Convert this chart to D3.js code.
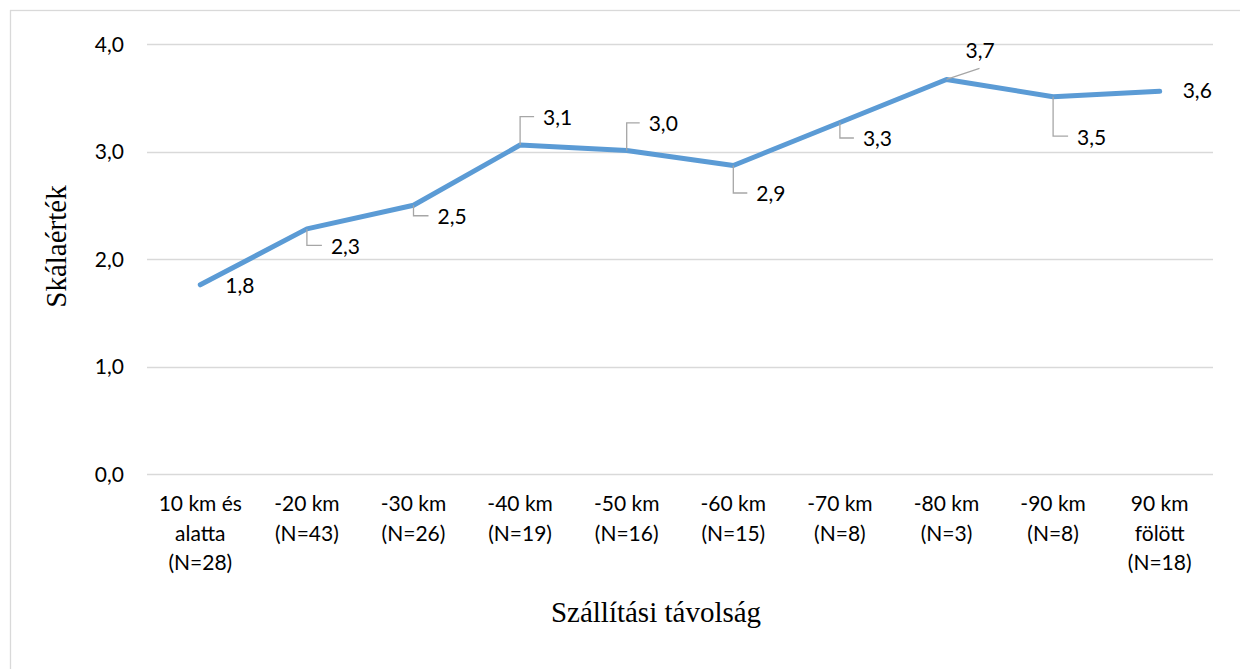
<!DOCTYPE html>
<html>
<head>
<meta charset="utf-8">
<script src="https://cdn.jsdelivr.net/npm/d3@7"></script>
<style>
  html, body { margin: 0; padding: 0; background: #ffffff; }
  svg { display: block; }
</style>
</head>
<body>
<div id="chart"></div>
<script>
// ---- data ----
const categories = [
  ["10 km és", "alatta", "(N=28)"],
  ["-20 km", "(N=43)"],
  ["-30 km", "(N=26)"],
  ["-40 km", "(N=19)"],
  ["-50 km", "(N=16)"],
  ["-60 km", "(N=15)"],
  ["-70 km", "(N=8)"],
  ["-80 km", "(N=3)"],
  ["-90 km", "(N=8)"],
  ["90 km", "fölött", "(N=18)"]
];
const values = [1.76, 2.28, 2.50, 3.06, 3.01, 2.87, 3.27, 3.67, 3.51, 3.56];
const yTicks = [0, 1, 2, 3, 4];
const xTitle = "Szállítási távolság";
const yTitle = "Skálaérték";

// ---- layout of data labels (text left/baseline offset from point, leader type) ----
const labelOffsets = [
  { dx: 25, dy: 8,  leader: "none" },
  { dx: 24, dy: 25, leader: "elbow" },
  { dx: 24, dy: 19, leader: "elbow" },
  { dx: 23, dy: -20, leader: "elbow" },
  { dx: 22, dy: -19, leader: "elbow" },
  { dx: 23, dy: 36, leader: "elbow" },
  { dx: 23, dy: 24, leader: "elbow" },
  { dx: 19, dy: -21, leader: "diag" },
  { dx: 24, dy: 48, leader: "elbow" },
  { dx: 23, dy: 7,  leader: "none" }
];

const W = 1240, H = 669;
const svg = d3.select("#chart").append("svg")
  .attr("width", W).attr("height", H);

// outer border
svg.append("rect")
  .attr("x", 10.5).attr("y", 10.5)
  .attr("width", W + 20).attr("height", H + 20)
  .attr("fill", "#ffffff")
  .attr("stroke", "#d9d9d9").attr("stroke-width", 1.3);

const x = d3.scaleBand().domain(d3.range(categories.length)).range([147, 1213]);
const y = d3.scaleLinear().domain([0, 4]).range([474, 44]);
const cx = i => x(i) + x.bandwidth() / 2;
const fmt = v => d3.format(".1f")(v).replace(".", ",");

const labelFont = "Lato, 'Open Sans', sans-serif";

// gridlines
svg.append("g").selectAll("line").data(yTicks).join("line")
  .attr("x1", 147).attr("x2", 1213)
  .attr("y1", d => Math.round(y(d)) + 0.5).attr("y2", d => Math.round(y(d)) + 0.5)
  .attr("stroke", "#d9d9d9").attr("stroke-width", 1.4);

// y tick labels
svg.append("g").selectAll("text").data(yTicks).join("text")
  .attr("x", 124).attr("y", d => y(d) + 7.5)
  .attr("text-anchor", "end")
  .attr("font-family", labelFont).attr("font-size", 21).attr("fill", "#000")
  .text(d => fmt(d));

// x tick labels
const xl = svg.append("g").selectAll("text").data(categories).join("text")
  .attr("text-anchor", "middle")
  .attr("font-family", labelFont).attr("font-size", 21).attr("fill", "#000");
xl.each(function(lines, i) {
  d3.select(this).selectAll("tspan").data(lines).join("tspan")
    .attr("x", cx(i)).attr("y", (d, k) => 511 + k * 29.5)
    .text(d => d);
});

// line
const line = d3.line().x((d, i) => cx(i)).y(d => y(d));
svg.append("path").datum(values)
  .attr("d", line)
  .attr("fill", "none").attr("stroke", "#5b9bd5")
  .attr("stroke-width", 5).attr("stroke-linecap", "round").attr("stroke-linejoin", "round");

// data labels with leader lines
const lg = svg.append("g");
values.forEach((v, i) => {
  const px = cx(i), py = y(v);
  const o = labelOffsets[i];
  const tx = px + o.dx, ty = py + o.dy;
  if (o.leader === "elbow") {
    const ly = ty - 8.5;
    lg.append("path")
      .attr("d", `M${px},${py} L${px},${ly} L${tx - 9},${ly}`)
      .attr("fill", "none").attr("stroke", "#a6a6a6").attr("stroke-width", 1.3);
  } else if (o.leader === "diag") {
    lg.append("path")
      .attr("d", `M${px},${py} L${tx + 14},${ty + 10}`)
      .attr("fill", "none").attr("stroke", "#a6a6a6").attr("stroke-width", 1.3);
  }
  lg.append("text")
    .attr("x", tx).attr("y", ty)
    .attr("font-family", labelFont).attr("font-size", 21).attr("fill", "#000")
    .text(fmt(v));
});

// axis titles
svg.append("text")
  .attr("x", 656).attr("y", 622)
  .attr("text-anchor", "middle")
  .attr("font-family", "'Liberation Serif', 'Times New Roman', serif")
  .attr("font-size", 29).attr("fill", "#000")
  .text(xTitle);

svg.append("text")
  .attr("transform", "translate(66,246.5) rotate(-90)")
  .attr("text-anchor", "middle")
  .attr("font-family", "'Liberation Serif', 'Times New Roman', serif")
  .attr("font-size", 29).attr("fill", "#000")
  .text(yTitle);
</script>
</body>
</html>
